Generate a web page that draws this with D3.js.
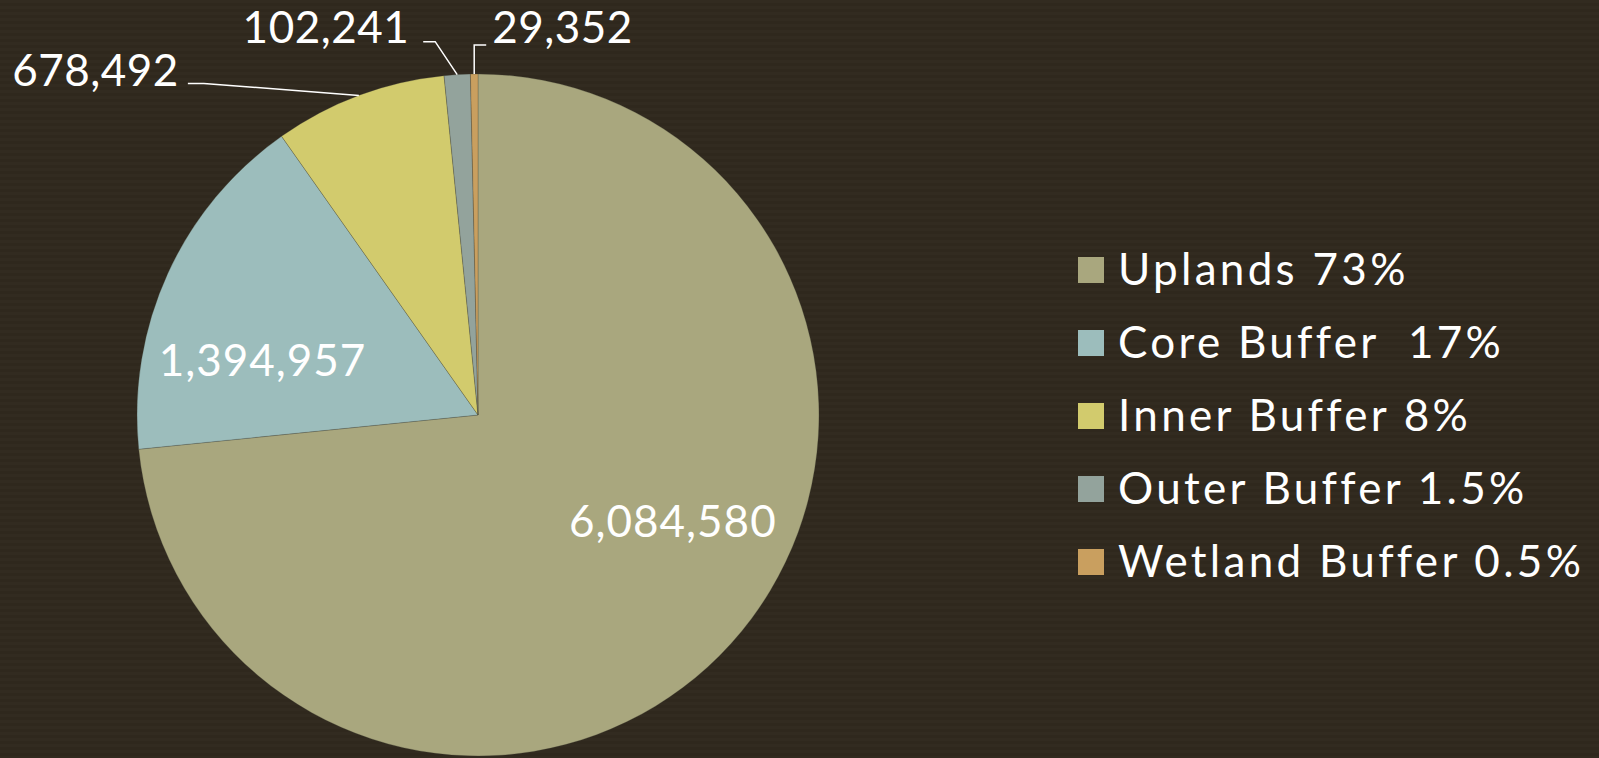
<!DOCTYPE html>
<html>
<head>
<meta charset="utf-8">
<script src="https://cdn.jsdelivr.net/npm/d3@7"></script>
<style>
  html, body { margin: 0; padding: 0; background: #312a1f; }
  svg text { font-family: "Lato", sans-serif; fill: #ffffff; white-space: pre; }
</style>
</head>
<body>
<div id="pie"></div>
<script>
// ---- data ----
let categories = ["Uplands", "Core Buffer", "Inner Buffer", "Outer Buffer", "Wetland Buffer"];
let values     = [6084580, 1394957, 678492, 102241, 29352];
let legendText = ["Uplands 73%", "Core Buffer  17%", "Inner Buffer 8%", "Outer Buffer 1.5%", "Wetland Buffer 0.5%"];
let colors     = ["#a9a77e", "#9cbdbc", "#d2cb6d", "#93a39c", "#c99f5f"];

let width  = 1599,
    height = 758;

let cx = 478, cy = 415, radius = 341;

// labels of the thin slices sit outside, led in by a line (offset from the slice edge)
let outsideNudge = {
  "Inner Buffer":   {dx: -155, dy: -12, side: -1, tick: 16, gap: 9,  base: 2},
  "Outer Buffer":   {dx: -22,  dy: -33, side: -1, tick: 12, gap: 14, base: 1},
  "Wetland Buffer": {dx: 0,    dy: -29, side: 1,  tick: 12, gap: 6,  base: -2}
};

let rows = categories.map(function(c, i) {
  return {category: c, value: values[i], legend: legendText[i]};
});

let svg =
  d3.select("#pie")
    .append("svg")
      .attr("width", width)
      .attr("height", height);

// faint horizontal stripes in the background
let defs = svg.append("defs");
let pat = defs.append("pattern")
    .attr("id", "stripes")
    .attr("width", 8)
    .attr("height", 6)
    .attr("patternUnits", "userSpaceOnUse");
pat.append("rect").attr("width", 8).attr("height", 6).attr("fill", "#322b20");
pat.append("rect").attr("y", 3).attr("width", 8).attr("height", 3).attr("fill", "#2f281d");

svg.append("rect")
    .attr("width", width)
    .attr("height", height)
    .attr("fill", "url(#stripes)");

let color =
  d3.scaleOrdinal()
    .domain(categories)
    .range(colors);

let pie =
  d3.pie()
    .sort(null)
    .value(function(d) { return d.value; });

let arc =
  d3.arc()
    .innerRadius(0)
    .outerRadius(radius);

let arcs = pie(rows);
let fmt = d3.format(",");

let g = svg.append("g")
    .attr("transform", translate(cx, cy));

g.selectAll(".slice")
    .data(arcs)
  .enter().append("path")
    .attr("class", "slice")
    .attr("d", arc)
    .attr("fill", function(d) { return color(d.data.category); })
    .attr("stroke", "rgba(60,60,50,0.35)")
    .attr("stroke-width", 0.75);

function midAngle(d) { return (d.startAngle + d.endAngle) / 2; }

// labels inside the big slices
let inside = arcs.filter(function(d) { return !outsideNudge[d.data.category]; });

g.selectAll(".inlabel")
    .data(inside)
  .enter().append("text")
    .attr("class", "inlabel")
    .attr("x", function(d) { return Math.sin(midAngle(d)) * radius * 0.36; })
    .attr("y", function(d) { return -Math.cos(midAngle(d)) * radius * 0.36; })
    .attr("text-anchor", function(d) { return Math.sin(midAngle(d)) > 0 ? "start" : "end"; })
    .attr("dominant-baseline", function(d) { return Math.cos(midAngle(d)) < 0 ? "hanging" : "central"; })
    .attr("dy", function(d) { return Math.cos(midAngle(d)) < 0 ? "0.12em" : "-0.12em"; })
    .style("font-size", "44px")
    .style("letter-spacing", "1px")
    .text(function(d) { return fmt(d.data.value); });

// labels outside with leader lines
let outside = arcs.filter(function(d) { return outsideNudge[d.data.category]; });

outside.forEach(function(d) {
  let n = outsideNudge[d.data.category];
  let a = midAngle(d);
  let ex = Math.sin(a) * radius,
      ey = -Math.cos(a) * radius;
  let bx = ex + n.dx,
      by = ey + n.dy;
  let tx = bx + n.side * n.tick;

  g.append("polyline")
    .attr("points", [[ex, ey], [bx, by], [tx, by]].map(function(p) { return p.join(","); }).join(" "))
    .attr("fill", "none")
    .attr("stroke", "#ffffff")
    .attr("stroke-width", 1.5);

  g.append("text")
    .attr("x", tx + n.side * n.gap)
    .attr("y", by + n.base)
    .attr("text-anchor", n.side < 0 ? "end" : "start")
    .style("font-size", "44px")
    .style("letter-spacing", "0.5px")
    .text(fmt(d.data.value));
});

// legend
let legend = svg.append("g")
    .attr("transform", translate(1078, 257));

let item = legend.selectAll(".item")
    .data(rows)
  .enter().append("g")
    .attr("class", "item")
    .attr("transform", function(d, i) { return translate(0, i * 73); });

item.append("rect")
    .attr("width", 26)
    .attr("height", 26)
    .attr("fill", function(d) { return color(d.category); });

item.append("text")
    .attr("x", 40)
    .attr("y", 28)
    .style("font-size", "44px")
    .style("letter-spacing", "3.3px")
    .text(function(d) { return d.legend; });

function translate(x, y=0) {
  return "translate({x}, {y})"
          .replace("{x}", x)
          .replace("{y}", y);
}
</script>
</body>
</html>
